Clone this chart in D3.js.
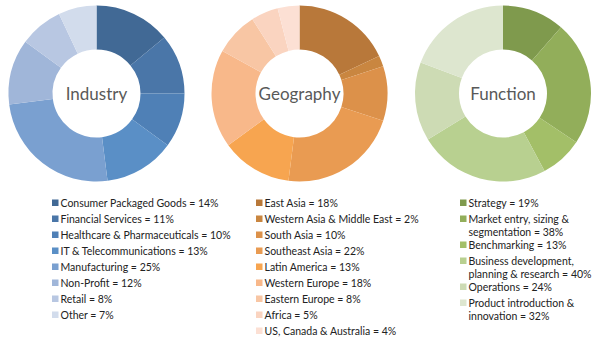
<!DOCTYPE html>
<html>
<head>
<meta charset="utf-8">
<script src="https://cdn.jsdelivr.net/npm/d3@7"></script>
<style>
  body { margin: 0; background: #fff; }
  svg { display: block; font-family: Lato, "Open Sans", sans-serif; }
</style>
</head>
<body>
<div id="chart"></div>
<script>
// Industry
const industryNames = ["Consumer Packaged Goods", "Financial Services", "Healthcare & Pharmaceuticals",
  "IT & Telecommunications", "Manufacturing", "Non-Profit", "Retail", "Other"];
const industryValues = [14, 11, 10, 13, 25, 12, 8, 7];
const industryColors = ["#416995", "#4a76a8", "#4f80b6", "#5a8fc6", "#7aa0d0", "#a0b6d9", "#b8c7e2", "#d2dcec"];

// Geography
const geoNames = ["East Asia", "Western Asia & Middle East", "South Asia", "Southeast Asia", "Latin America",
  "Western Europe", "Eastern Europe", "Africa", "US, Canada & Australia"];
const geoValues = [18, 2, 10, 22, 13, 18, 8, 5, 4];
const geoColors = ["#b8783a", "#c98640", "#dc914a", "#e99b52", "#f7a550", "#f8b88a", "#f8c6a4", "#fad4c0", "#fce0d4"];

// Function
const functionNames = ["Strategy", "Market entry, sizing & segmentation", "Benchmarking",
  "Business development, planning & research", "Operations", "Product introduction & innovation"];
const functionValues = [19, 38, 13, 40, 24, 32];
const functionColors = ["#7f9a4d", "#92ae5a", "#a3bf68", "#b8d090", "#cddbb4", "#dde6cf"];

const width = 600, height = 352;

const svg = d3.select("#chart").append("svg")
  .attr("width", width)
  .attr("height", height);

const panels = [
  { title: "Industry", names: industryNames, values: industryValues, colors: industryColors,
    cx: 96.5, legendX: 52, wrap: Infinity },
  { title: "Geography", names: geoNames, values: geoValues, colors: geoColors,
    cx: 299.5, legendX: 256, wrap: Infinity },
  { title: "Function", names: functionNames, values: functionValues, colors: functionColors,
    cx: 503, legendX: 460, wrap: 130 }
];

const outerR = 88, innerR = 44, cy = 93.5;

const pie = d3.pie().sort(null).value(d => d.value);
const arc = d3.arc().innerRadius(innerR).outerRadius(outerR);

panels.forEach(p => {
  const data = p.names.map((n, i) => ({ name: n, value: p.values[i], color: p.colors[i] }));

  // donut
  const g = svg.append("g").attr("transform", "translate(" + p.cx + "," + cy + ")");
  g.selectAll("path")
    .data(pie(data))
    .enter()
    .append("path")
    .attr("d", arc)
    .attr("fill", d => d.data.color);

  g.append("text")
    .attr("y", 6)
    .attr("text-anchor", "middle")
    .attr("fill", "#595959")
    .style("font-size", "17px")
    .text(p.title);

  // legend
  const legend = svg.append("g").attr("transform", "translate(" + p.legendX + ",0)");
  let y = 203;
  data.forEach(d => {
    legend.append("rect")
      .attr("x", 0)
      .attr("y", y - 3.5)
      .attr("width", 6.5)
      .attr("height", 6.5)
      .attr("fill", d.color);

    const text = legend.append("text")
      .attr("fill", "#222")
      .style("font-size", "10.5px");

    // wrap long labels onto more lines
    const words = (d.name + " = " + d.value + "%").split(" ");
    let line = [];
    let lineNo = 0;
    let tspan = text.append("tspan").attr("x", 8.5).attr("y", y).attr("dy", "0.35em");
    words.forEach(w => {
      line.push(w);
      tspan.text(line.join(" "));
      if (tspan.node().getComputedTextLength() > p.wrap && line.length > 1) {
        line.pop();
        tspan.text(line.join(" "));
        line = [w];
        lineNo++;
        tspan = text.append("tspan")
          .attr("x", 8.5)
          .attr("y", y + lineNo * 13)
          .attr("dy", "0.35em")
          .text(w);
      }
    });
    y += lineNo * 13 + (lineNo > 0 ? 13 : 16);
  });
});
</script>
</body>
</html>
